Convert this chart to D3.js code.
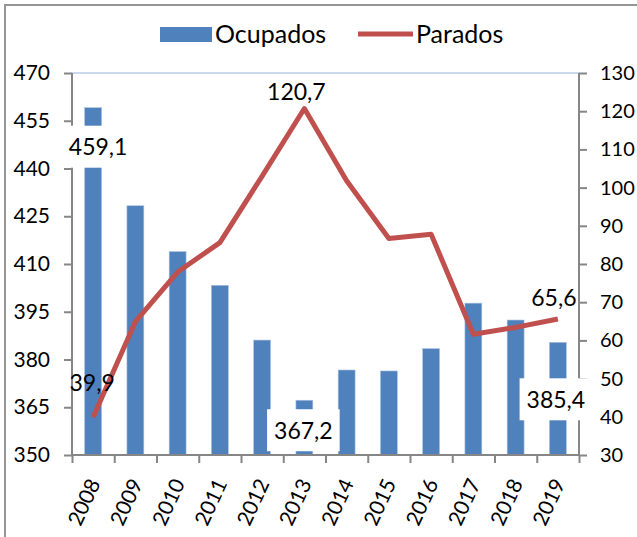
<!DOCTYPE html>
<html>
<head>
<meta charset="utf-8">
<script src="https://cdn.jsdelivr.net/npm/d3@7"></script>
<style>
  body { margin: 0; background: #fff; }
  text { font-family: Lato, "Open Sans", sans-serif; fill: #000; }
</style>
</head>
<body>
<div id="svgContainer"></div>
<script>
// data
var years = ["2008", "2009", "2010", "2011", "2012", "2013", "2014", "2015", "2016", "2017", "2018", "2019"];
var ocupados = [459.1, 428.3, 413.9, 403.3, 386.1, 367.2, 376.7, 376.4, 383.4, 397.7, 392.4, 385.4];
var parados = [39.9, 64.9, 77.9, 85.6, 103.0, 120.7, 101.8, 86.7, 87.8, 61.6, 63.4, 65.6];
var leftTicks = [350, 365, 380, 395, 410, 425, 440, 455, 470];
var rightTicks = [30, 40, 50, 60, 70, 80, 90, 100, 110, 120, 130];

var width = 637, height = 537;
var margin = {top: 73, right: 58, bottom: 82, left: 72};
var plotW = width - margin.left - margin.right,
    plotH = height - margin.top - margin.bottom;

var svg = d3.select("#svgContainer")
    .append("svg")
    .attr("width", width)
    .attr("height", height);

// outer chart border (only top and left visible)
svg.append("path")
    .attr("d", "M5," + height + " V5 H" + width)
    .attr("fill", "none")
    .style("stroke", "#969696")
    .style("stroke-width", 2);

var g = svg.append("g")
    .attr("transform", "translate(" + margin.left + "," + margin.top + ")");

var x = d3.scaleBand()
    .domain(years)
    .range([0, plotW])
    .paddingInner(0.6)
    .paddingOuter(0.3);

var yL = d3.scaleLinear().domain([350, 470]).range([plotH, 0]);
var yR = d3.scaleLinear().domain([30, 130]).range([plotH, 0]);

// plot area outline
g.append("rect")
    .attr("width", plotW)
    .attr("height", plotH)
    .attr("fill", "none")
    .style("stroke", "#95b3d7")
    .style("stroke-width", 1);

// bars
g.selectAll(".bar")
    .data(ocupados)
    .enter().append("rect")
    .attr("class", "bar")
    .attr("x", function(d, i) { return x(years[i]); })
    .attr("y", function(d) { return yL(d); })
    .attr("width", x.bandwidth())
    .attr("height", function(d) { return plotH - yL(d); })
    .attr("fill", "#4f81bd")
    .style("stroke", "#a9c1e0")
    .style("stroke-width", 0.6);

// line
var cx = function(i) { return x(years[i]) + x.bandwidth() / 2; };
var line = d3.line()
    .x(function(d, i) { return cx(i); })
    .y(function(d) { return yR(d); });

g.append("path")
    .datum(parados)
    .attr("d", line)
    .attr("fill", "none")
    .style("stroke", "#c0504d")
    .style("stroke-width", 5)
    .style("stroke-linejoin", "round");

// axes
var axisColor = "#868686";
var left = g.append("g")
    .call(d3.axisLeft(yL).tickValues(leftTicks).tickSize(8).tickPadding(14));
var right = g.append("g")
    .attr("transform", "translate(" + plotW + ",0)")
    .call(d3.axisRight(yR).tickValues(rightTicks).tickSize(8).tickPadding(13));

var xb = d3.scaleLinear().domain([0, years.length]).range([0, plotW]);
var bottom = g.append("g")
    .attr("transform", "translate(0," + plotH + ")")
    .call(d3.axisBottom(xb).ticks(years.length).tickFormat("").tickSize(8));

[left, right, bottom].forEach(function(a) {
    a.select(".domain").style("stroke", axisColor).style("stroke-width", 2);
    a.selectAll(".tick line").style("stroke", axisColor).style("stroke-width", 2);
    a.selectAll("text").style("font-size", "21px").style("font-family", "Lato, sans-serif").attr("fill", "#000");
});
right.selectAll("text").style("font-size", "20px");
left.select(".domain").attr("d", "M0," + plotH + "V0");
right.select(".domain").attr("d", "M0," + plotH + "V0");
bottom.select(".domain").attr("d", "M0,0H" + plotW);

// rotated year labels
g.selectAll(".year")
    .data(years)
    .enter().append("text")
    .attr("class", "year")
    .attr("transform", function(d, i) {
        return "translate(" + (cx(i) + 1) + "," + (plotH + 25) + ") rotate(-65)";
    })
    .attr("dy", "0.36em")
    .attr("text-anchor", "end")
    .style("font-size", "21px")
    .text(function(d) { return d; });

// data labels
function fmt(v) { return String(v.toFixed(1)).replace(".", ","); }

var barLabels = [
    {i: 0, dx: 5, dy: 39},
    {i: 5, dx: -1, dy: 30},
    {i: 11, dx: -2, dy: 57}
];
var lineLabels = [
    {i: 0, dx: -1, dy: -34},
    {i: 5, dx: -8, dy: -17},
    {i: 11, dx: -4, dy: -21}
];

barLabels.forEach(function(l) {
    var px = cx(l.i) + l.dx, py = yL(ocupados[l.i]) + l.dy;
    var lg = g.append("g").attr("transform", "translate(" + px + "," + py + ")");
    var t = lg.append("text")
        .attr("text-anchor", "middle")
        .attr("dy", "0.36em")
        .style("font-size", "23px")
        .text(fmt(ocupados[l.i]));
    var bb = t.node().getBBox();
    lg.insert("rect", "text")
        .attr("x", bb.x - 7)
        .attr("y", -21)
        .attr("width", bb.width + 14)
        .attr("height", 42)
        .attr("fill", "#fff");
});

lineLabels.forEach(function(l) {
    g.append("text")
        .attr("x", cx(l.i) + l.dx)
        .attr("y", yR(parados[l.i]) + l.dy)
        .attr("text-anchor", "middle")
        .attr("dy", "0.36em")
        .style("font-size", "23px")
        .text(fmt(parados[l.i]));
});

// legend
var legend = svg.append("g");
legend.append("rect")
    .attr("x", 160).attr("y", 27)
    .attr("width", 52).attr("height", 15)
    .attr("fill", "#4f81bd");
legend.append("text")
    .attr("x", 215).attr("y", 34)
    .attr("dy", "0.36em")
    .style("font-size", "25px")
    .text("Ocupados");
legend.append("line")
    .attr("x1", 358).attr("x2", 413)
    .attr("y1", 34).attr("y2", 34)
    .style("stroke", "#c0504d")
    .style("stroke-width", 5);
legend.append("text")
    .attr("x", 416).attr("y", 34)
    .attr("dy", "0.36em")
    .style("font-size", "25px")
    .text("Parados");
</script>
</body>
</html>
